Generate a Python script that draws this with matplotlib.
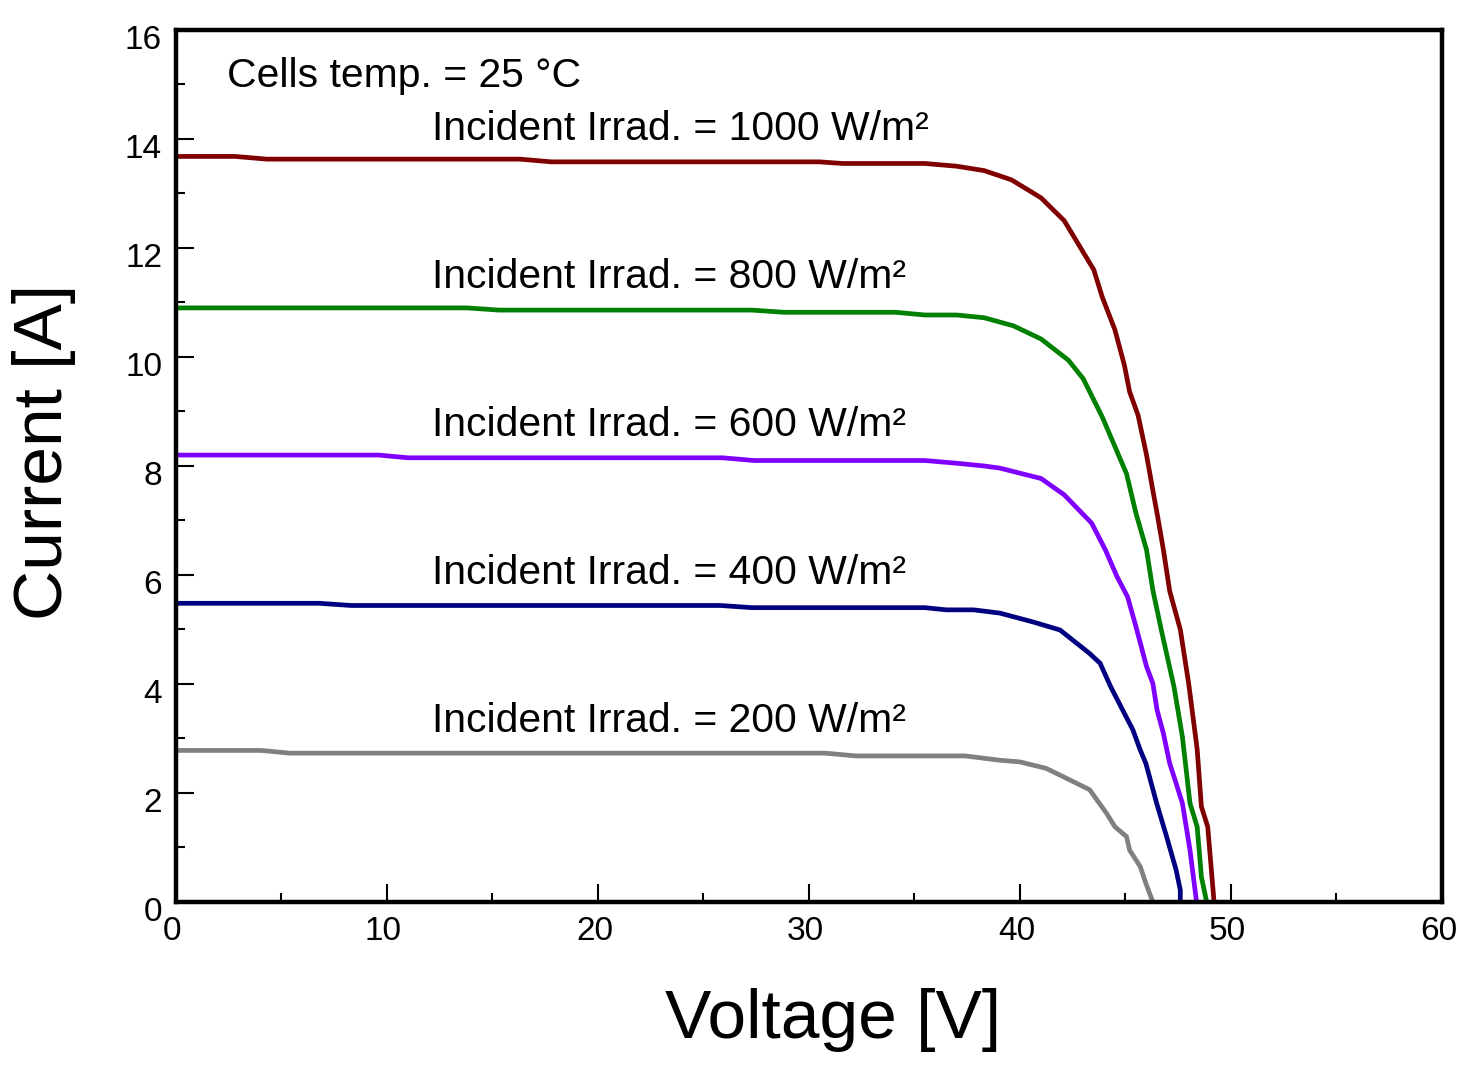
import matplotlib
matplotlib.use("Agg")
import matplotlib.pyplot as plt
from matplotlib.ticker import MultipleLocator
from matplotlib.transforms import ScaledTranslation

plt.rcParams['font.family'] = ['Liberation Sans', 'DejaVu Sans']

# I-V curves (voltage [V], current [A])
v_1000 = [0, 2.8, 4.3, 16.3, 17.8, 30.5, 31.6, 35.5, 37.0, 38.3, 39.6, 41.0, 42.1, 42.8,
          43.5, 43.9, 44.5, 44.95, 45.2, 45.6, 46.0, 46.3, 46.5, 46.8, 47.1, 47.6, 48.0,
          48.4, 48.6, 48.9, 49.2]
i_1000 = [13.68, 13.68, 13.63, 13.63, 13.58, 13.58, 13.55, 13.55, 13.5, 13.42, 13.25, 12.92,
          12.5, 12.05, 11.6, 11.1, 10.5, 9.85, 9.36, 8.93, 8.2, 7.55, 7.13, 6.46, 5.7, 5.0,
          4.0, 2.8, 1.75, 1.38, 0.0]

v_800 = [0, 13.8, 15.3, 27.3, 28.8, 34.1, 35.5, 37.0, 38.3, 39.7, 41.0, 42.3, 43.0, 43.9,
         45.05, 45.5, 46.0, 46.3, 46.7, 47.3, 47.7, 48.06, 48.4, 48.6, 48.85]
i_800 = [10.9, 10.9, 10.86, 10.86, 10.82, 10.82, 10.77, 10.77, 10.72, 10.57, 10.33, 9.94,
         9.6, 8.9, 7.86, 7.13, 6.46, 5.72, 4.99, 3.95, 3.03, 1.81, 1.38, 0.46, 0.0]

v_600 = [0, 9.6, 11.0, 25.9, 27.4, 35.5, 37.0, 38.3, 39.05, 41.0, 42.1, 43.4, 44.05, 44.6,
         45.1, 45.5, 46.0, 46.3, 46.5, 46.8, 47.1, 47.4, 47.7, 48.06, 48.37]
i_600 = [8.2, 8.2, 8.15, 8.15, 8.1, 8.1, 8.05, 8.0, 7.96, 7.77, 7.47, 6.95, 6.46, 5.97,
         5.6, 5.05, 4.32, 4.01, 3.52, 3.09, 2.54, 2.18, 1.81, 0.95, 0.0]

v_400 = [0, 6.8, 8.3, 25.8, 27.3, 35.5, 36.5, 37.8, 39.05, 40.6, 41.9, 43.3, 43.8, 44.3,
         45.35, 45.7, 45.97, 46.48, 46.95, 47.4, 47.6, 47.6]
i_400 = [5.48, 5.48, 5.44, 5.44, 5.4, 5.4, 5.36, 5.36, 5.3, 5.14, 4.99, 4.56, 4.38, 3.95,
         3.16, 2.79, 2.54, 1.81, 1.2, 0.59, 0.22, 0.0]

v_200 = [0, 4.05, 5.4, 30.8, 32.2, 37.4, 39.05, 40.0, 41.25, 42.2, 43.3, 44.1, 44.5, 45.05,
         45.2, 45.7, 45.97, 46.3]
i_200 = [2.78, 2.78, 2.73, 2.73, 2.68, 2.68, 2.6, 2.57, 2.45, 2.27, 2.06, 1.63, 1.38, 1.2,
         0.95, 0.65, 0.34, 0.0]

irrad = [1000, 800, 600, 400, 200]
volts = [v_1000, v_800, v_600, v_400, v_200]
amps = [i_1000, i_800, i_600, i_400, i_200]
colors = ['#800000', '#008000', '#8000ff', '#000080', '#808080']
label_y = [13.98, 11.27, 8.55, 5.83, 3.12]   # baseline of each curve label

fig = plt.figure(figsize=(14.59, 10.82), dpi=100)
ax = fig.add_axes([0.1206, 0.1664, 0.8677, 0.8059])

for v, i, c in zip(volts, amps, colors):
    ax.plot(v, i, color=c, lw=3.4, solid_capstyle='round')

ax.text(2.42, 14.95, 'Cells temp. = 25 °C', fontsize=29.4, va='baseline', ha='left')
for g, y in zip(irrad, label_y):
    ax.text(12.13, y, 'Incident Irrad. = %d W/m²' % g, fontsize=29.4, va='baseline', ha='left')

ax.set_xlim(0, 60)
ax.set_ylim(0, 16)
ax.xaxis.set_major_locator(MultipleLocator(10))
ax.xaxis.set_minor_locator(MultipleLocator(5))
ax.yaxis.set_major_locator(MultipleLocator(2))
ax.yaxis.set_minor_locator(MultipleLocator(1))
ax.tick_params(which='both', direction='in', top=False, right=False, width=1.5,
               labelsize=24, pad=10)
ax.tick_params(which='major', length=13)
ax.tick_params(which='minor', length=6.5)
for s in ax.spines.values():
    s.set_linewidth(3.2)

ax.set_xlabel('Voltage [V]', fontsize=50, va='center')
ax.xaxis.set_label_coords(0.519, -0.135)
ax.set_ylabel('Current [A]', fontsize=50, va='center')
ax.yaxis.set_label_coords(-0.104, 0.516)

# tick labels sit a little off their ticks in the original
yshift = ScaledTranslation(0, -5 / 72, fig.dpi_scale_trans)
for lab in ax.get_yticklabels():
    lab.set_transform(lab.get_transform() + yshift)
xshift = ScaledTranslation(-2.5 / 72, 0, fig.dpi_scale_trans)
for lab in ax.get_xticklabels():
    lab.set_transform(lab.get_transform() + xshift)

fig.savefig('out.png', dpi=100)
